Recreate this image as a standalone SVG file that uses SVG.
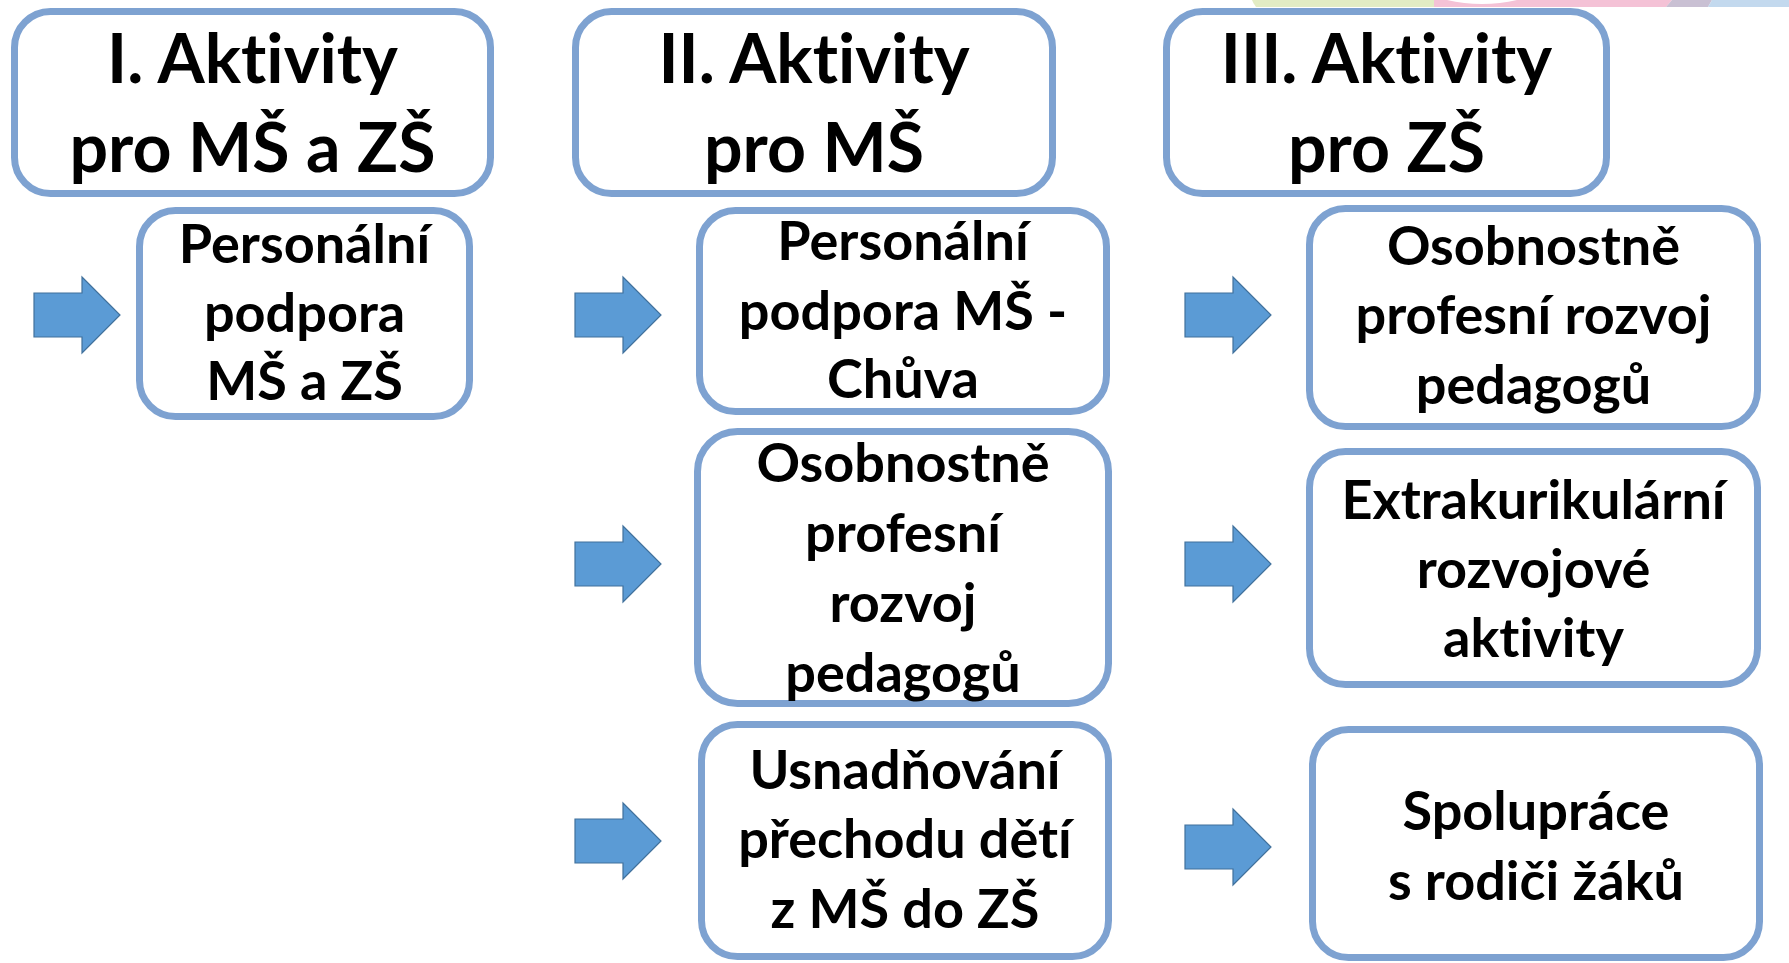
<svg xmlns="http://www.w3.org/2000/svg" xmlns:xlink="http://www.w3.org/1999/xlink" width="1789" height="963" viewBox="0 0 1789 963">
<style>
.box{fill:#ffffff;stroke:#7ea2d1;stroke-width:7}
.hd{font-family:"Lato","Open Sans","Liberation Sans",sans-serif;font-weight:bold;font-size:68px;fill:#000;text-anchor:middle;font-variant-ligatures:none}
.tx{font-family:"Lato","Open Sans","Liberation Sans",sans-serif;font-weight:bold;font-size:54px;fill:#000;text-anchor:middle;font-variant-ligatures:none}
.arr{fill:#5b9bd5;stroke:#41719c;stroke-width:1.2}
</style>
<defs>
<polygon id="arrow" class="arr" points="0,16 48,16 48,0 86,38 48,76 48,60 0,60"/>
</defs>
<rect x="0" y="0" width="1789" height="963" fill="#ffffff"/>
<g id="decor">
<path d="M1252,0 L1434,0 L1434,7 L1256,7 Q1253,3 1252,0 Z" fill="#e2ecc4"/>
<path d="M1434,0 L1672,0 L1666,7 L1434,7 Z" fill="#f4c2d6"/>
<path d="M1447,0 L1517,0 Q1500,4 1482,4 Q1464,4 1447,0 Z" fill="#ffffff"/>
<path d="M1672,0 L1712,0 L1708,7 L1666,7 Z" fill="#c9c0d3"/>
<path d="M1712,0 L1789,0 L1789,7 L1708,7 Z" fill="#c3d9ee"/>
</g>
<g id="connectors">
<use xlink:href="#arrow" x="34" y="277"/>
<use xlink:href="#arrow" x="575" y="277"/>
<use xlink:href="#arrow" x="575" y="526"/>
<use xlink:href="#arrow" x="575" y="803"/>
<use xlink:href="#arrow" x="1185" y="277"/>
<use xlink:href="#arrow" x="1185" y="526"/>
<use xlink:href="#arrow" x="1185" y="809"/>
</g>
<g id="h1">
<rect class="box" x="14.5" y="11.5" width="476" height="182" rx="36"/>
<text class="hd" x="252.5" y="83">I. Aktivity</text>
<text class="hd" x="252.5" y="172">pro MŠ a ZŠ</text>
</g>
<g id="h2">
<rect class="box" x="575.5" y="11.5" width="477" height="182" rx="36"/>
<text class="hd" x="814" y="83">II. Aktivity</text>
<text class="hd" x="814" y="172">pro MŠ</text>
</g>
<g id="h3">
<rect class="box" x="1166.5" y="11.5" width="440" height="182" rx="36"/>
<text class="hd" x="1386.5" y="83">III. Aktivity</text>
<text class="hd" x="1386.5" y="172">pro ZŠ</text>
</g>
<g id="b1">
<rect class="box" x="139.5" y="210.5" width="330" height="206" rx="36"/>
<text class="tx" x="304.5" y="263">Personální</text>
<text class="tx" x="304.5" y="332">podpora</text>
<text class="tx" x="304.5" y="400">MŠ a ZŠ</text>
</g>
<g id="b2a">
<rect class="box" x="699.5" y="210.5" width="407" height="201" rx="36"/>
<text class="tx" x="903" y="260">Personální</text>
<text class="tx" x="903" y="330">podpora MŠ -</text>
<text class="tx" x="903" y="398">Chůva</text>
</g>
<g id="b2b">
<rect class="box" x="697.5" y="431.5" width="411" height="272" rx="40"/>
<text class="tx" x="903" y="482">Osobnostně</text>
<text class="tx" x="903" y="552">profesní</text>
<text class="tx" x="903" y="622">rozvoj</text>
<text class="tx" x="903" y="692">pedagogů</text>
</g>
<g id="b2c">
<rect class="box" x="701.5" y="724.5" width="407" height="232" rx="36"/>
<text class="tx" x="905" y="789">Usnadňování</text>
<text class="tx" x="905" y="858">přechodu dětí</text>
<text class="tx" x="905" y="928">z MŠ do ZŠ</text>
</g>
<g id="b3a">
<rect class="box" x="1309.5" y="208.5" width="448" height="218" rx="36"/>
<text class="tx" x="1533.5" y="265">Osobnostně</text>
<text class="tx" x="1533.5" y="334">profesní rozvoj</text>
<text class="tx" x="1533.5" y="404">pedagogů</text>
</g>
<g id="b3b">
<rect class="box" x="1309.5" y="451.5" width="448" height="233" rx="36"/>
<text class="tx" x="1533.5" y="519">Extrakurikulární</text>
<text class="tx" x="1533.5" y="588">rozvojové</text>
<text class="tx" x="1533.5" y="657">aktivity</text>
</g>
<g id="b3c">
<rect class="box" x="1312.5" y="729.5" width="447" height="228" rx="36"/>
<text class="tx" x="1536" y="830">Spolupráce</text>
<text class="tx" x="1536" y="900">s rodiči žáků</text>
</g>
</svg>
